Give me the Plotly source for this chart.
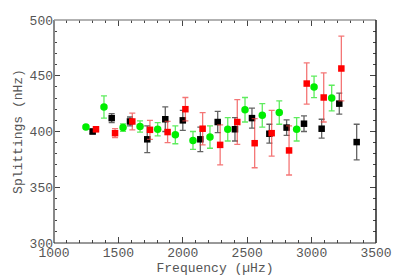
import plotly.graph_objects as go

green_f = [1248, 1388, 1536, 1668, 1805, 1942, 2079, 2211, 2349, 2483, 2617, 2749, 2884, 3019, 3156]
green_v = [404, 422, 403.5, 404.5, 402, 397, 392, 395, 402, 419.5, 414.5, 417, 402, 440, 430]
green_e = [1.5, 10, 3.4, 5, 6, 8, 8, 10, 10.5, 11, 10.5, 10.5, 10.5, 9.7, 11.5]

black_f = [1300, 1448, 1590, 1724, 1864, 2000, 2136, 2271, 2405, 2537, 2672, 2806, 2941, 3078, 3215, 3350]
black_v = [400, 412, 409, 393, 411, 410, 393, 408.5, 402, 412, 398, 403.5, 407, 402.5, 425, 390.5]
black_e = [2, 4, 4, 12, 11, 9, 11, 9.5, 10.5, 9, 8.5, 7, 7, 8.5, 9.5, 16]

red_f = [1326, 1474, 1608, 1745, 1882, 2020, 2154, 2290, 2423, 2558, 2690, 2825, 2962, 3094, 3231]
red_v = [402, 398.5, 409, 401.5, 399.5, 420, 402.5, 388, 408.5, 389.5, 398.5, 383, 443, 430.5, 456.5]
red_e = [2, 4, 7.5, 8.5, 9.5, 10.5, 14.5, 18, 20, 22, 20.5, 22, 18.5, 22, 29]

x_ticks = [1000, 1500, 2000, 2500, 3000, 3500]
y_ticks = [300, 350, 400, 450, 500]

FONT = "Liberation Mono"

fig = go.Figure()

def add(f, v, e, color, ecolor, symbol, size):
    fig.add_trace(go.Scatter(
        x=f, y=v, mode="markers",
        marker=dict(color=color, symbol=symbol, size=size, line=dict(width=0)),
        error_y=dict(type="data", array=e, visible=True, color=ecolor,
                     thickness=1.3, width=3),
        showlegend=False,
    ))

add(black_f, black_v, black_e, "black", "rgba(60,60,60,0.8)", "square", 6.5)
add(red_f, red_v, red_e, "#ff0000", "rgba(240,60,60,0.7)", "square", 6.5)
add(green_f, green_v, green_e, "#00ee00", "rgba(40,230,40,0.75)", "circle", 7.5)

axis_common = dict(
    showgrid=False, zeroline=False, showline=False, automargin=False,
    ticks="inside", mirror="allticks", tickcolor="#444", ticklen=6, tickwidth=1,
    tickfont=dict(family=FONT, size=13, color="#555"),
    title_font=dict(family=FONT, size=13, color="#555"),
)

fig.update_xaxes(
    range=[1000, 3500], tickvals=x_ticks, ticktext=[str(t) for t in x_ticks],
    minor=dict(dtick=100, ticks="inside", ticklen=3, tickcolor="#444", tick0=1000),
    title_text="Frequency (\u00b5Hz)", title_standoff=0,
    **axis_common,
)
fig.update_yaxes(
    range=[300, 500], tickvals=y_ticks, ticktext=[str(t) for t in y_ticks],
    minor=dict(dtick=10, ticks="inside", ticklen=3, tickcolor="#444", tick0=300),
    title_text="Splittings (nHz)", title_standoff=4,
    **axis_common,
)

# frame lines
fig.add_shape(type="line", xref="paper", yref="paper", x0=0, x1=0, y0=0, y1=1,
              line=dict(color="#888", width=2))
fig.add_shape(type="line", xref="paper", yref="paper", x0=0, x1=1, y0=1, y1=1,
              line=dict(color="#999", width=1.5))
fig.add_shape(type="line", xref="paper", yref="paper", x0=1, x1=1, y0=0, y1=1,
              line=dict(color="#222", width=1.5))
fig.add_shape(type="line", xref="paper", yref="paper", x0=0, x1=1, y0=0, y1=0,
              line=dict(color="#333", width=1))

# page body has an 8px default margin, so offset the plot area accordingly
fig.update_layout(
    template="none",
    width=407, height=268,
    margin=dict(l=46, r=39, t=12, b=33),
    plot_bgcolor="white", paper_bgcolor="white",
)

fig.write_html("out.html")
